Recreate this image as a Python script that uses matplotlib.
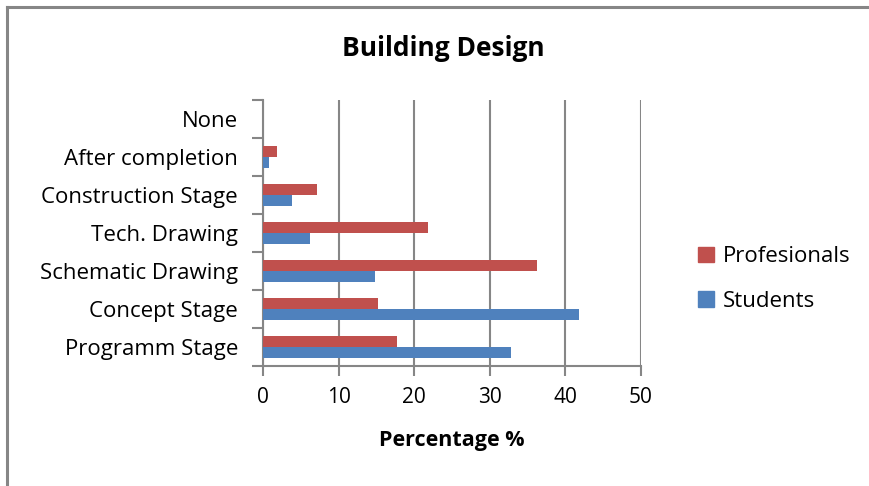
import matplotlib
matplotlib.use("Agg")
import matplotlib.pyplot as plt
from matplotlib.lines import Line2D
from matplotlib.patches import Patch
import numpy as np

categories = ["Programm Stage", "Concept Stage", "Schematic Drawing", "Tech. Drawing",
              "Construction Stage", "After completion", "None"]
students = [32.8, 41.8, 14.8, 6.2, 3.8, 0.8, 0.0]
professionals = [17.7, 15.2, 36.2, 21.8, 7.1, 1.9, 0.0]
x_ticks = [0, 10, 20, 30, 40, 50]

plt.rcParams['font.family'] = ['Open Sans', 'DejaVu Sans']

W, H = 869, 486
fig = plt.figure(figsize=(W / 100, H / 100), dpi=100)
ax = fig.add_axes([263 / W, 1 - 366 / H, (641 - 263) / W, (366 - 100) / H])

blue = "#4f81bd"
red = "#c0504d"
grey = "#868686"

y = np.arange(len(categories))
h = 0.29
ax.barh(y - h / 2, students, height=h, color=blue, zorder=3)
ax.barh(y + h / 2, professionals, height=h, color=red, zorder=3)

ax.set_xlim(0, 50)
ax.set_ylim(-0.5, len(categories) - 0.5)
ax.set_xticks(x_ticks)
ax.set_xticklabels([str(v) for v in x_ticks], fontsize=15)
ax.set_yticks(y)
ax.set_yticklabels(categories, fontsize=16)
ax.set_yticks(np.arange(len(categories) + 1) - 0.5, minor=True)
ax.tick_params(axis='y', which='major', length=0, pad=18)
ax.tick_params(axis='y', which='minor', length=8, width=1.5, color=grey, direction='out')
ax.tick_params(axis='x', length=7, width=1.5, color=grey, direction='out', pad=8)

ax.grid(axis='x', color=grey, linewidth=1.5, zorder=0)
for s in ['top', 'right']:
    ax.spines[s].set_visible(False)
for s in ['left', 'bottom']:
    ax.spines[s].set_color(grey)
    ax.spines[s].set_linewidth(1.5)

ax.set_xlabel("Percentage %", fontsize=15.5, fontweight='bold', labelpad=16)

fig.text(443 / W, 1 - 48 / H, "Building Design", fontsize=19, fontweight='bold',
         ha='center', va='center')

handles = [Patch(color=red), Patch(color=blue)]
fig.legend(handles, ["Profesionals", "Students"], loc='center left',
           bbox_to_anchor=(678 / W, 1 - 279 / H), frameon=False, fontsize=16,
           handlelength=0.7, handleheight=0.7, handletextpad=0.4, labelspacing=1.05)

# outer frame (left and top only visible)
fig.add_artist(Line2D([7.5 / W, 7.5 / W], [0, 1 - 7.5 / H], color=grey, linewidth=2.2,
                      transform=fig.transFigure))
fig.add_artist(Line2D([7.5 / W, 1], [1 - 7.5 / H, 1 - 7.5 / H], color=grey, linewidth=2.2,
                      transform=fig.transFigure))

fig.savefig("out.png", dpi=100, facecolor='white')
